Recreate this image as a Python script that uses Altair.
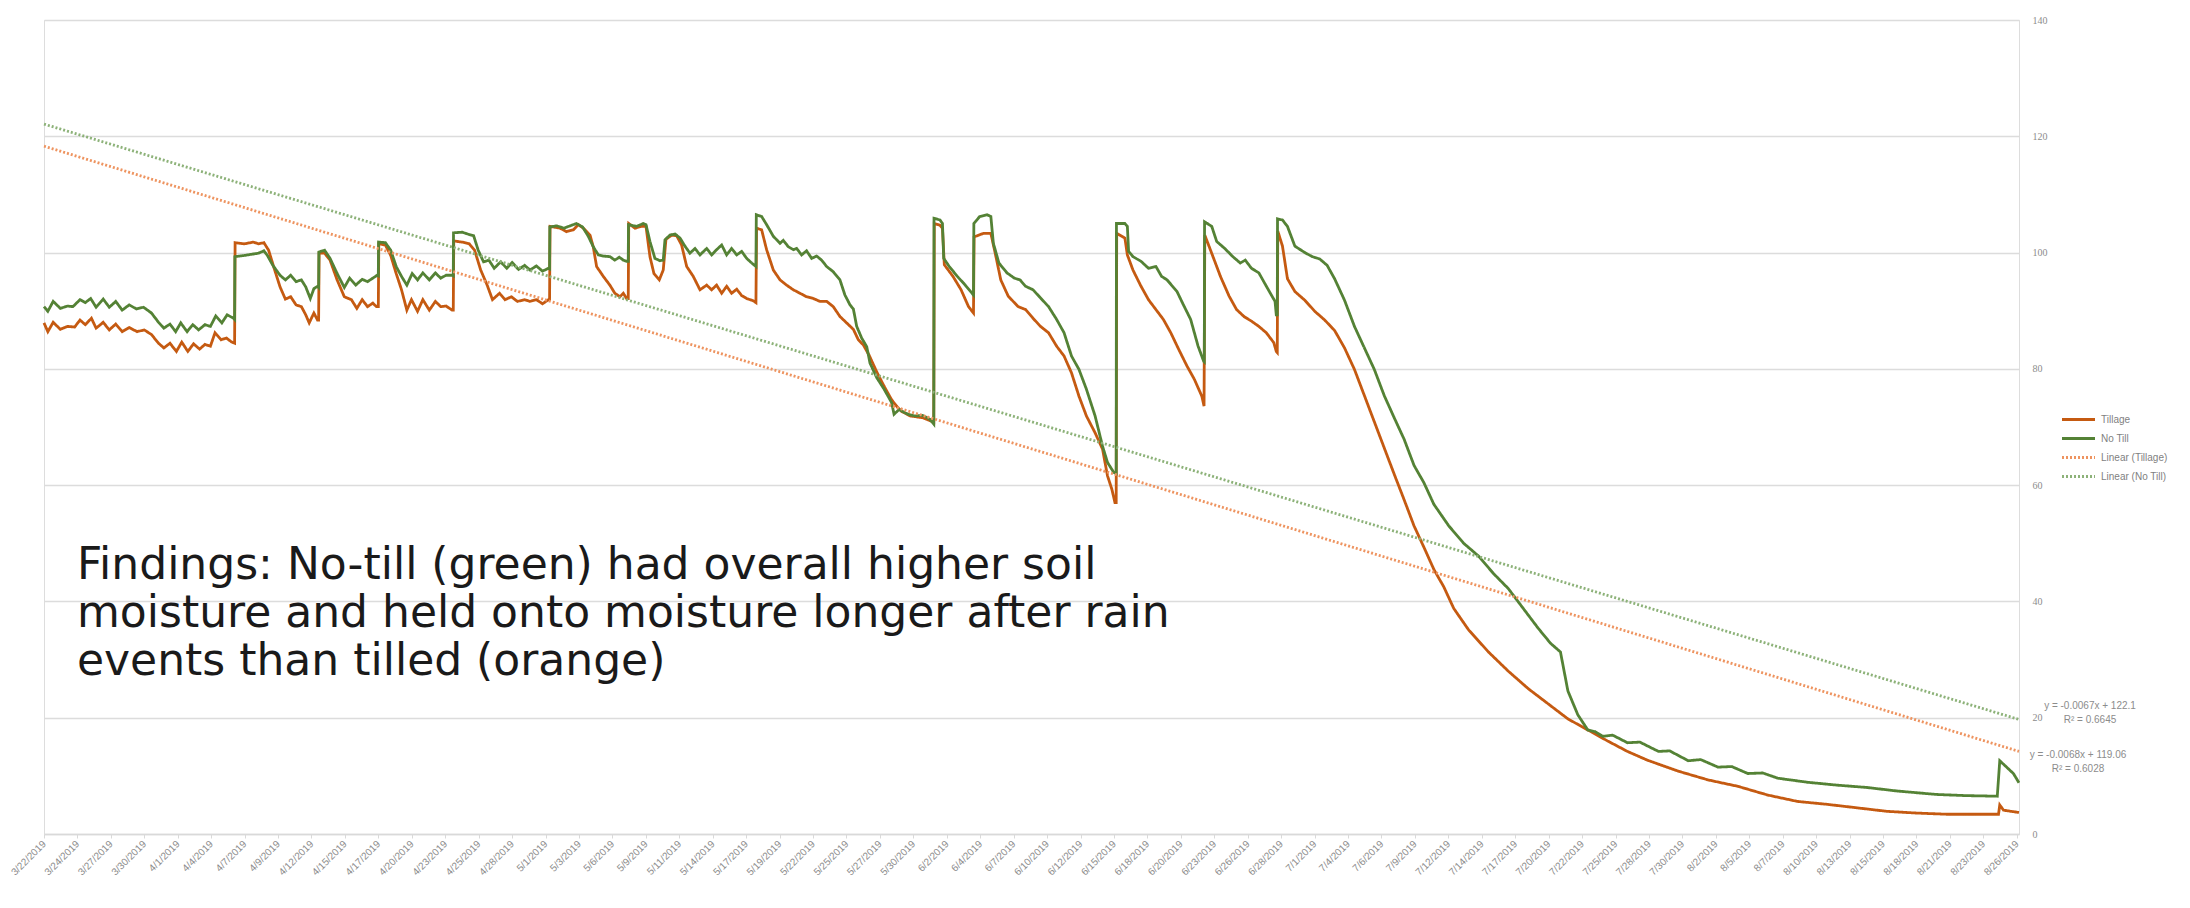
import altair as alt
import pandas as pd

# ---- data: (day since 3/22/2019, soil moisture) ----
TILLAGE = [
    (0, 87.9), (0.31, 86.4), (0.74, 88.0), (1.32, 86.8), (1.89, 87.3), (2.47, 87.2), (2.90, 88.4), (3.33, 87.6),
    (3.82, 88.7), (4.20, 87.0), (4.77, 88.0), (5.26, 86.7), (5.78, 87.7), (6.30, 86.4), (6.87, 87.1), (7.50, 86.4),
    (8.08, 86.7), (8.66, 85.9), (9.23, 84.4), (9.66, 83.6), (10.15, 84.4), (10.67, 83.0), (11.10, 84.6), (11.59, 83.0),
    (12.05, 84.3), (12.54, 83.4), (12.97, 84.2), (13.41, 83.9), (13.78, 86.2), (14.27, 85.0), (14.70, 85.3), (15.13, 84.6),
    (15.36, 84.4),
    (15.40, 101.7), (16.14, 101.5), (16.86, 101.8), (17.29, 101.5), (17.72, 101.7), (18.1, 100.4), (18.59, 97.0),
    (19.02, 94.1), (19.45, 92.0), (19.88, 92.4), (20.31, 91.0), (20.74, 90.7), (21.09, 89.3), (21.37, 87.9), (21.75, 89.6),
    (22.04, 88.4), (22.13, 88.4),
    (22.17, 99.9), (22.61, 99.9), (23.05, 98.7), (23.62, 95.3), (24.2, 92.4), (24.77, 91.9), (25.21, 90.4), (25.64, 91.9),
    (26.07, 90.7), (26.5, 91.3), (26.79, 90.7), (26.94, 90.7),
    (26.98, 101.5), (27.51, 101.3), (27.94, 99.5), (28.38, 96.4), (28.81, 93.6), (29.24, 90.1), (29.61, 91.9), (30.1, 89.9),
    (30.53, 91.9), (31.05, 90.1), (31.54, 91.6), (31.97, 90.7), (32.4, 90.8), (32.89, 90.1), (32.98, 90.1),
    (33.02, 102.0), (33.7, 101.8), (34.27, 101.5), (34.70, 100.4), (35.19, 97.0), (35.71, 94.4), (36.14, 91.9), (36.71, 93.0),
    (37.15, 91.9), (37.66, 92.4), (38.15, 91.6), (38.73, 91.9), (39.16, 91.6), (39.68, 91.9), (40.17, 91.2), (40.66, 91.9),
    (40.74, 91.9),
    (40.78, 104.5), (41.58, 104.2), (42.1, 103.6), (42.65, 103.9), (43.06, 104.8), (43.46, 104.2), (44.0, 103.0), (44.26, 101.0),
    (44.53, 97.6), (45.07, 95.9), (45.6, 94.4), (46.0, 93.0), (46.41, 92.4), (46.68, 93.0), (46.95, 92.1), (47.08, 92.1),
    (47.12, 105.0), (47.62, 104.2), (48.16, 104.5), (48.51, 104.5), (48.83, 99.3), (49.15, 96.4), (49.58, 95.3), (49.9, 97.0),
    (50.12, 102.3), (50.58, 103.0), (50.98, 102.9), (51.38, 101.3), (51.79, 97.6), (52.32, 95.9), (52.86, 93.6), (53.40, 94.4),
    (53.80, 93.6), (54.2, 94.4), (54.61, 93.0), (55.01, 94.2), (55.41, 93.0), (55.82, 93.7), (56.22, 92.6), (56.62, 92.1),
    (57.16, 91.7), (57.37, 91.4),
    (57.42, 104.2), (57.83, 103.9), (58.23, 100.5), (58.77, 97.0), (59.31, 95.3), (59.84, 94.4), (60.38, 93.6), (60.92, 93.0),
    (61.45, 92.4), (61.99, 92.1), (62.53, 91.6), (63.07, 91.6), (63.6, 90.7), (64.14, 89.0), (64.68, 87.9), (65.22, 86.8),
    (65.62, 85.0), (66.03, 84.1), (66.5, 82.3), (67.1, 79.5), (67.7, 77.0), (68.3, 74.7), (68.7, 73.6), (69.1, 72.7),
    (69.8, 71.9), (70.8, 71.6), (71.5, 71.0), (71.7, 70.8),
    (71.74, 105.0), (72.2, 104.7), (72.4, 104.2), (72.55, 97.9), (73.25, 95.9), (73.9, 93.6), (74.5, 90.7), (74.9, 89.6),
    (74.95, 102.7), (75.7, 103.3), (76.3, 103.3), (76.65, 99.9), (77.1, 95.3), (77.7, 92.5), (78.5, 90.7), (79.1, 90.2),
    (79.7, 88.7), (80.3, 87.3), (80.95, 86.2), (81.6, 83.9), (82.2, 82.2), (82.8, 79.3), (83.4, 75.3), (84.0, 71.9),
    (84.7, 69.0), (85.3, 66.2), (85.7, 61.6), (86.05, 59.3), (86.3, 57.0), (86.4, 57.0),
    (86.44, 103.3), (87.1, 102.5), (87.3, 99.6), (87.75, 97.0), (88.4, 94.2), (89.0, 91.9), (89.6, 90.2), (90.2, 88.5),
    (90.8, 86.2), (91.45, 83.3), (92.1, 80.5), (92.7, 78.2), (93.3, 75.3), (93.48, 73.6),
    (93.54, 103.0), (94.2, 99.3), (94.8, 95.9), (95.5, 92.5), (96.1, 90.2), (96.7, 89.0), (97.3, 88.2), (97.9, 87.3),
    (98.5, 86.2), (99.1, 84.5), (99.3, 83.0), (99.38, 82.8),
    (99.42, 103.7), (99.8, 101.1), (100.2, 95.5), (100.8, 93.3), (101.6, 91.8), (102.4, 89.9), (103.2, 88.4), (104.0, 86.6),
    (104.8, 83.6), (105.6, 79.9), (106.4, 75.4), (107.2, 70.9), (108.0, 66.4), (108.8, 61.9), (109.6, 57.5), (110.4, 53.0),
    (111.2, 49.3), (112.0, 45.5), (112.8, 42.5), (113.6, 38.8), (114.8, 35.1), (116.4, 31.3), (118.0, 28.0), (119.6, 25.0),
    (121.2, 22.4), (122.8, 19.8), (124.4, 17.9), (126.0, 16.0), (127.6, 14.2), (129.2, 12.7), (131.7, 10.8), (134.1, 9.3),
    (136.5, 8.2), (138.9, 6.7), (141.3, 5.6), (143.7, 5.1), (146.1, 4.5), (148.5, 3.9), (150.9, 3.6), (153.3, 3.4),
    (155.7, 3.4), (157.5, 3.4), (157.6, 5.0), (157.9, 4.1), (158.5, 3.9), (159.15, 3.7),
]

NO_TILL = [
    (0, 90.7), (0.31, 89.9), (0.74, 91.6), (1.32, 90.4), (1.89, 90.8), (2.33, 90.7), (2.90, 91.9), (3.33, 91.4),
    (3.76, 92.1), (4.20, 90.6), (4.77, 92.0), (5.26, 90.6), (5.78, 91.6), (6.30, 90.1), (6.87, 91.0), (7.45, 90.3),
    (8.02, 90.6), (8.66, 89.6), (9.23, 88.0), (9.66, 87.0), (10.15, 87.7), (10.61, 86.4), (11.02, 87.9), (11.53, 86.4),
    (11.99, 87.6), (12.46, 86.7), (12.97, 87.6), (13.41, 87.3), (13.84, 89.1), (14.33, 87.9), (14.76, 89.3), (15.27, 88.7),
    (15.36, 88.5),
    (15.38, 99.3), (16.14, 99.5), (16.71, 99.7), (17.29, 99.9), (17.72, 100.3), (18.0, 99.5), (18.44, 97.8), (19.02, 96.1),
    (19.45, 95.3), (19.88, 96.1), (20.31, 95.0), (20.74, 95.3), (21.09, 94.1), (21.46, 92.1), (21.75, 93.8), (22.04, 94.2),
    (22.13, 94.0),
    (22.15, 100.1), (22.61, 100.4), (23.05, 99.0), (23.62, 96.4), (24.2, 94.0), (24.63, 95.6), (25.12, 94.4), (25.64, 95.4),
    (26.07, 95.0), (26.5, 95.6), (26.85, 96.1), (26.94, 96.0),
    (26.96, 101.8), (27.51, 101.7), (27.94, 100.4), (28.38, 97.6), (28.81, 95.9), (29.24, 94.4), (29.67, 96.4), (30.1, 95.3),
    (30.53, 96.5), (31.05, 95.3), (31.54, 96.5), (31.97, 95.6), (32.4, 96.1), (32.89, 96.1), (32.98, 96.0),
    (33.0, 103.4), (33.7, 103.5), (34.27, 103.1), (34.62, 102.9), (34.99, 100.4), (35.42, 98.4), (35.85, 98.7), (36.28, 97.3),
    (36.8, 98.4), (37.29, 97.3), (37.72, 98.3), (38.24, 97.1), (38.73, 97.8), (39.16, 97.0), (39.68, 97.7), (40.17, 96.8),
    (40.66, 97.3), (40.74, 97.2),
    (40.76, 104.4), (41.3, 104.6), (41.9, 104.2), (42.4, 104.6), (42.9, 105.0), (43.4, 104.4), (43.86, 102.8), (44.26, 101.0),
    (44.67, 99.6), (45.07, 99.4), (45.6, 99.3), (46.0, 98.7), (46.36, 99.2), (46.68, 98.7), (46.95, 98.5), (47.08, 98.5),
    (47.1, 104.8), (47.76, 104.5), (48.29, 105.0), (48.51, 104.8), (48.83, 101.9), (49.23, 99.0), (49.64, 98.6), (49.9, 98.7),
    (50.04, 102.2), (50.44, 103.0), (50.85, 103.2), (51.25, 102.5), (51.65, 101.1), (52.05, 99.9), (52.46, 100.7), (52.86, 99.6),
    (53.40, 100.7), (53.80, 99.6), (54.2, 100.5), (54.61, 101.3), (55.01, 99.6), (55.41, 100.7), (55.82, 99.6), (56.22, 100.2),
    (56.62, 99.0), (57.03, 98.2), (57.37, 97.6),
    (57.4, 106.5), (57.83, 106.2), (58.23, 104.8), (58.77, 102.8), (59.31, 101.6), (59.57, 102.1), (59.98, 101.0), (60.38, 100.5),
    (60.65, 100.7), (61.05, 99.6), (61.45, 100.3), (61.86, 99.0), (62.26, 99.4), (62.66, 98.7), (63.07, 97.6), (63.6, 96.7),
    (64.14, 95.3), (64.54, 92.7), (64.95, 91.0), (65.22, 90.3), (65.49, 87.3), (65.89, 85.3), (66.3, 83.8), (66.56, 81.0),
    (67.1, 78.5), (67.7, 76.5), (68.3, 74.2), (68.5, 72.2), (68.9, 73.0), (69.6, 72.2), (70.2, 71.9), (70.8, 72.0),
    (71.4, 71.3), (71.7, 70.5),
    (71.72, 105.9), (72.2, 105.6), (72.4, 105.0), (72.5, 99.0), (72.95, 97.6), (73.6, 95.9), (74.2, 94.5), (74.9, 92.7),
    (74.93, 105.0), (75.4, 106.2), (76.0, 106.5), (76.3, 106.2), (76.5, 101.6), (76.95, 98.2), (77.6, 96.5), (78.2, 95.6),
    (78.65, 95.3), (79.1, 94.2), (79.7, 93.6), (80.3, 92.2), (80.95, 90.7), (81.6, 88.5), (82.2, 86.2), (82.8, 82.2),
    (83.4, 79.9), (84.0, 76.5), (84.7, 71.9), (85.3, 66.7), (85.7, 63.9), (86.2, 62.2), (86.4, 62.0),
    (86.42, 105.0), (87.1, 105.0), (87.3, 104.5), (87.4, 100.2), (87.75, 99.3), (88.4, 98.5), (89.0, 97.3), (89.6, 97.6),
    (90.06, 95.9), (90.5, 95.3), (91.3, 93.3), (91.75, 91.3), (92.4, 88.5), (93.0, 83.9), (93.45, 81.3), (93.5, 81.2),
    (93.52, 105.3), (94.1, 104.5), (94.5, 101.9), (95.15, 100.7), (95.8, 99.3), (96.4, 98.2), (96.8, 98.7), (97.3, 97.3),
    (97.9, 96.5), (98.5, 94.2), (99.2, 91.6), (99.3, 89.3), (99.38, 89.3),
    (99.4, 105.8), (99.8, 105.6), (100.2, 104.5), (100.8, 101.1), (101.6, 100.0), (102.2, 99.3), (102.8, 98.9), (103.4, 97.8),
    (104.0, 95.5), (104.8, 91.8), (105.6, 87.3), (106.4, 83.6), (107.2, 79.9), (108.0, 75.4), (108.8, 71.6), (109.6, 67.9),
    (110.4, 63.4), (111.2, 60.4), (112.0, 56.7), (113.2, 53.0), (114.4, 50.0), (115.6, 47.8), (116.8, 44.8), (118.0, 42.2),
    (119.2, 38.8), (120.4, 35.4), (121.4, 32.8), (122.2, 31.3), (122.8, 24.6), (123.6, 20.5), (124.4, 17.9), (125.0, 17.6),
    (125.6, 16.8), (126.4, 17.0), (127.6, 15.7), (128.6, 15.8), (130.1, 14.2), (131.0, 14.3), (132.5, 12.6), (133.5, 12.8),
    (134.9, 11.5), (136.0, 11.6), (137.3, 10.4), (138.5, 10.5), (139.7, 9.6), (142.1, 8.9), (144.5, 8.4), (146.9, 8.0),
    (149.3, 7.4), (152.5, 6.8), (154.9, 6.6), (157.4, 6.5), (157.6, 12.6), (158.1, 11.6), (158.7, 10.4), (159.15, 8.8),
]

TREND_TILLAGE = [(0, 118.3), (159.15, 14.2)]
TREND_NO_TILL = [(0, 122.1), (159.15, 19.7)]

SERIES = ["Tillage", "No Till", "Linear (Tillage)", "Linear (No Till)"]
COLORS = ["#C55A11", "#548235", "#EE9460", "#8DB279"]

X_LABELS = [
    "3/22/2019", "3/24/2019", "3/27/2019", "3/30/2019", "4/1/2019", "4/4/2019", "4/7/2019", "4/9/2019",
    "4/12/2019", "4/15/2019", "4/17/2019", "4/20/2019", "4/23/2019", "4/25/2019", "4/28/2019", "5/1/2019",
    "5/3/2019", "5/6/2019", "5/9/2019", "5/11/2019", "5/14/2019", "5/17/2019", "5/19/2019", "5/22/2019",
    "5/25/2019", "5/27/2019", "5/30/2019", "6/2/2019", "6/4/2019", "6/7/2019", "6/10/2019", "6/12/2019",
    "6/15/2019", "6/18/2019", "6/20/2019", "6/23/2019", "6/26/2019", "6/28/2019", "7/1/2019", "7/4/2019",
    "7/6/2019", "7/9/2019", "7/12/2019", "7/14/2019", "7/17/2019", "7/20/2019", "7/22/2019", "7/25/2019",
    "7/28/2019", "7/30/2019", "8/2/2019", "8/5/2019", "8/7/2019", "8/10/2019", "8/13/2019", "8/15/2019",
    "8/18/2019", "8/21/2019", "8/23/2019", "8/26/2019",
]
LABEL_STEP = 2.6944          # days between category labels
Y_TICKS = [0, 20, 40, 60, 80, 100, 120, 140]

EQ_NO_TILL = ["y = -0.0067x + 122.1", "R² = 0.6645"]
EQ_TILLAGE = ["y = -0.0068x + 119.06", "R² = 0.6028"]
FINDINGS = [
    "Findings: No-till (green) had overall higher soil",
    "moisture and held onto moisture longer after rain",
    "events than tilled (orange)",
]

# ---- build table ----
rows = []
for name, pts in zip(SERIES, [TILLAGE, NO_TILL, TREND_TILLAGE, TREND_NO_TILL]):
    for i, (d, v) in enumerate(pts):
        rows.append({"series": name, "day": d, "value": v, "i": i})
df = pd.DataFrame(rows)

W, H = 1975, 814
tick_vals = [round(k * LABEL_STEP, 4) for k in range(len(X_LABELS))]
label_arr = "[" + ",".join("'" + s + "'" for s in X_LABELS) + "]"

legend = alt.Legend(
    title=None, orient="none", legendX=2022, legendY=387, padding=0,
    symbolType="M-1.5,0H1.5", symbolSize=484, rowPadding=0, labelOffset=10,
    labelFontSize=10, labelColor="#7F7F7F", labelFont="Liberation Sans",
)

x_enc = alt.X(
    "day:Q",
    scale=alt.Scale(domain=[0, 159.15], nice=False, zero=False),
    axis=alt.Axis(
        values=tick_vals, labelExpr=label_arr + "[round(datum.value / " + str(LABEL_STEP) + ")]",
        labelAngle=-45, labelAlign="right", labelBaseline="middle", labelPadding=4,
        labelFontSize=10, labelColor="#8C8C8C", labelFont="Liberation Sans", labelOverlap=False,
        labelBound=False, labelFlush=False,
        grid=False, domainColor="#D9D9D9", domainWidth=1.5, tickColor="#D9D9D9", tickSize=4,
        title=None,
    ),
)
y_enc = alt.Y(
    "value:Q",
    scale=alt.Scale(domain=[0, 140], nice=False),
    axis=alt.Axis(
        orient="right", values=Y_TICKS, grid=True, gridColor="#DCDCDC", gridWidth=1.5,
        domain=False, ticks=False, labelPadding=13, labelFontSize=10,
        labelColor="#8C8C8C", labelFont="Liberation Serif", title=None,
    ),
)

lines = alt.Chart(df).mark_line().encode(
    x=x_enc,
    y=y_enc,
    color=alt.Color("series:N", scale=alt.Scale(domain=SERIES, range=COLORS), legend=legend),
    strokeDash=alt.StrokeDash("series:N", scale=alt.Scale(domain=SERIES, range=[[1, 0], [1, 0], [2, 2], [2, 2]]), legend=legend),
    strokeWidth=alt.StrokeWidth("series:N", scale=alt.Scale(domain=SERIES, range=[2.8, 2.8, 1.5, 1.5]), legend=legend),
    order="i:Q",
)

one = pd.DataFrame({"a": [0]})
eq_n = alt.Chart(one).mark_text(
    text=EQ_NO_TILL, x=2046, y=686, align="center", baseline="middle",
    fontSize=10, lineHeight=14, font="Liberation Sans", color="#8C8C8C",
).encode()
eq_t = alt.Chart(one).mark_text(
    text=EQ_TILLAGE, x=2034, y=735, align="center", baseline="middle",
    fontSize=10, lineHeight=14, font="Liberation Sans", color="#8C8C8C",
).encode()
findings = alt.Chart(one).mark_text(
    text=FINDINGS, x=33, y=559, align="left", baseline="alphabetic",
    fontSize=44, lineHeight=48, font="DejaVu Sans", color="#1A1A1A",
).encode()

chart = alt.layer(lines, eq_n, eq_t, findings).properties(
    width=W, height=H,
    autosize=alt.AutoSizeParams(type="none"),
    padding={"left": 36, "top": 12, "right": 163, "bottom": 66},
).configure_view(stroke=None).configure(background="white")

chart.save("out.html", embed_options={"renderer": "svg", "actions": False})
